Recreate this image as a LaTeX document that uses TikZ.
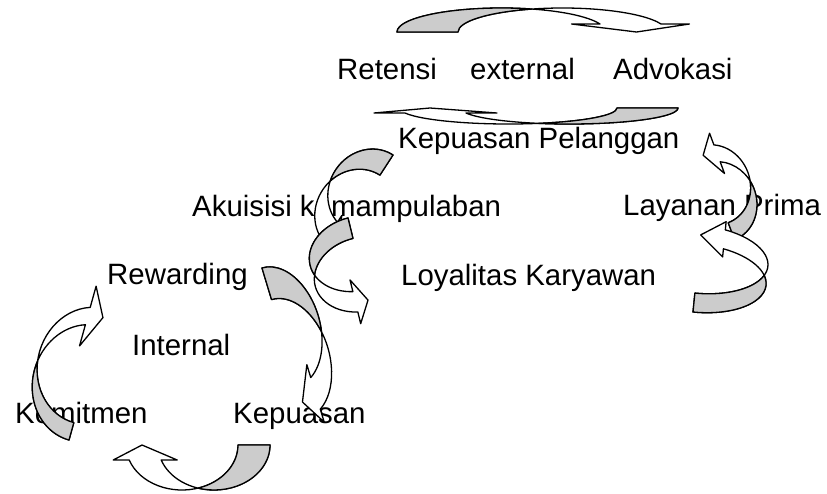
\documentclass[tikz,border=0pt]{standalone}
\usepackage{fontspec}
\setmainfont{Liberation Sans}
\definecolor{grisatras}{RGB}{204,204,204}
\tikzset{
  etiqueta/.style={font=\fontsize{29.4}{35}\selectfont, inner sep=0pt, anchor=base west},
  cuerpo/.style={draw=black, fill=white, line width=1.3pt, line join=round},
  reverso/.style={draw=black, fill=grisatras, line width=1.3pt, line join=round}
}
% Flecha curva: #1 semieje sobre la cuerda, #2 altura, #3 grosor, #4 base de la punta, #5 ancho de la punta
\newcommand{\flecha}[5]{%
  \pgfmathsetmacro{\flA}{#1}%
  \pgfmathsetmacro{\flH}{#2}%
  \pgfmathsetmacro{\flT}{#3}%
  \pgfmathsetmacro{\flB}{#4}%
  \pgfmathsetmacro{\flX}{acos(\flT/(2*\flA))}%
  \pgfmathsetmacro{\flXr}{180-\flX}%
  \pgfmathsetmacro{\flPhi}{asin(\flB/\flH)}%
  \pgfmathsetmacro{\flM}{\flA+\flA*cos(\flPhi)+\flT/2}%
  \pgfmathsetmacro{\flBl}{\flM-#5/2}%
  \pgfmathsetmacro{\flBr}{\flM+#5/2}%
  \pgfmathsetmacro{\flEr}{\flM+\flT/2}%
  \pgfmathsetmacro{\flTip}{2*\flA+\flT/2}%
  \draw[cuerpo] (0,0) arc[start angle=180, end angle=\flPhi, x radius=\flA, y radius=\flH]
    -- (\flBl,\flB) -- (\flTip,0) -- (\flBr,\flB) -- (\flEr,\flB)
    arc[start angle=\flPhi, end angle=180, x radius=\flA, y radius=\flH] -- cycle;
  \draw[reverso] (0,0) arc[start angle=180, end angle=\flX, x radius=\flA, y radius=\flH]
    arc[start angle=\flXr, end angle=180, x radius=\flA, y radius=\flH] -- cycle;
}

\begin{document}
\begin{tikzpicture}[x=1pt,y=1pt]
  \useasboundingbox (0,0) rectangle (827,-493);

  % Textos
  \node[etiqueta] (ret) at (337,-79) {Retensi};
  \node[etiqueta] (ext) at (470,-79) {external};
  \node[etiqueta] (adv) at (613,-79) {Advokasi};
  \node[etiqueta] (kpel) at (398,-148) {Kepuasan Pelanggan};
  \node[etiqueta] (aku) at (192,-216) {Akuisisi kemampulaban};
  \node[etiqueta] (lay) at (623,-215) {Layanan Prima};
  \node[etiqueta] (rew) at (107,-284) {Rewarding};
  \node[etiqueta] (loy) at (401,-285) {Loyalitas Karyawan};
  \node[etiqueta] (int) at (132,-355) {Internal};
  \node[etiqueta] (kom) at (15,-423) {Komitmen};
  \node[etiqueta] (kep) at (233,-423) {Kepuasan};

  % Flechas del ciclo externo
  \begin{scope}[shift={(397,-32)}]
    \flecha{104.5}{24}{61}{8}{118}
  \end{scope}
  \begin{scope}[shift={(678,-108)}, rotate=180]
    \flecha{108.75}{16}{61}{5}{123}
  \end{scope}
  \begin{scope}[shift={(393,-155)}, rotate=-123, yscale=-1]
    \flecha{44}{40}{24}{10}{40}
  \end{scope}
  \begin{scope}[shift={(348,-218)}, rotate=-76.3, yscale=-1]
    \flecha{37}{48}{21}{12.7}{45}
  \end{scope}
  \begin{scope}[shift={(734.5,-239.6)}, rotate=110.4, yscale=-1]
    \flecha{40.5}{36}{18}{13.7}{43}
  \end{scope}
  \begin{scope}[shift={(693,-312)}, rotate=84.3, yscale=-1]
    \flecha{34}{70}{19}{24}{35.4}
  \end{scope}

  % Flechas del ciclo interno
  \begin{scope}[shift={(262,-268)}, rotate=-73.2]
    \flecha{61.75}{40}{33}{15}{60}
  \end{scope}
  \begin{scope}[shift={(270,-445)}, rotate=180]
    \flecha{56}{45}{32}{15}{64}
  \end{scope}
  \begin{scope}[shift={(69,-440)}, rotate=74.5]
    \flecha{59}{52}{18}{15}{62}
  \end{scope}
\end{tikzpicture}
\end{document}
